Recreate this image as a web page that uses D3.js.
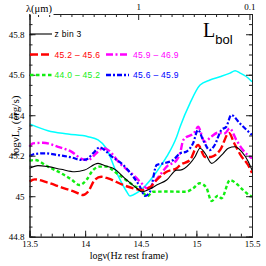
<!DOCTYPE html>
<html>
<head>
<meta charset="utf-8">
<script src="https://cdn.jsdelivr.net/npm/d3@7"></script>
<style>
  body { margin: 0; background: #fff; }
  svg { display: block; }
  .axis path, .axis line { stroke: #222; stroke-width: 1; }
  .axis text { font-family: "Liberation Serif", serif; font-size: 9px; fill: #000; }
</style>
</head>
<body>
<div id="chart"></div>
<script>
// --- Data: [log nu, log nuL_nu] ---
const cyanSeries = [
  [13.5, 45.357], [13.666, 45.323], [13.846, 45.307], [14.026, 45.294], [14.116, 45.278],
  [14.188, 45.238], [14.284, 45.115], [14.374, 45.022], [14.403, 45.001], [14.43, 45.006],
  [14.52, 45.04], [14.643, 45.121], [14.733, 45.195], [14.823, 45.294], [14.853, 45.342],
  [14.943, 45.46], [15.033, 45.549], [15.122, 45.574], [15.212, 45.59], [15.302, 45.608],
  [15.348, 45.62], [15.393, 45.608], [15.465, 45.584], [15.5, 45.565]
];
const blackSeries = [
  [13.5, 45.138], [13.576, 45.151], [13.666, 45.146], [13.783, 45.133], [13.906, 45.121],
  [13.996, 45.129], [14.116, 45.162], [14.188, 45.149], [14.251, 45.138], [14.374, 45.08],
  [14.464, 45.039], [14.509, 45.022], [14.583, 45.036], [14.643, 45.055], [14.733, 45.08],
  [14.823, 45.129], [14.853, 45.129], [14.943, 45.162], [14.988, 45.195], [15.033, 45.237],
  [15.078, 45.212], [15.138, 45.162], [15.183, 45.179], [15.242, 45.212], [15.287, 45.237],
  [15.347, 45.244], [15.407, 45.22], [15.467, 45.17], [15.5, 45.129]
];
const redSeries = [
  [13.5, 45.072], [13.547, 45.083], [13.666, 45.067], [13.786, 45.044], [13.906, 45.022],
  [13.981, 45.006], [14.026, 45.022], [14.086, 45.08], [14.145, 45.096], [14.206, 45.088],
  [14.343, 45.055], [14.433, 45.039], [14.509, 45.031], [14.583, 45.044], [14.643, 45.08],
  [14.733, 45.121], [14.823, 45.138], [14.853, 45.154], [14.943, 45.179], [15.015, 45.253],
  [15.078, 45.194], [15.132, 45.194], [15.213, 45.228], [15.294, 45.312], [15.339, 45.263],
  [15.402, 45.199], [15.465, 45.154], [15.5, 45.115]
];
const greenSeries = [
  [13.5, 45.175], [13.547, 45.179], [13.666, 45.146], [13.786, 45.113], [13.876, 45.083],
  [13.951, 45.055], [14.011, 45.08], [14.071, 45.129], [14.131, 45.146], [14.188, 45.146],
  [14.284, 45.113], [14.43, 45.055], [14.52, 45.022], [14.553, 44.998], [14.61, 45.022],
  [14.733, 45.023], [14.907, 45.022], [14.97, 45.039], [15.03, 45.064], [15.089, 45.043],
  [15.136, 44.976], [15.194, 45.003], [15.226, 44.99], [15.302, 45.08], [15.356, 45.064],
  [15.419, 45.031], [15.482, 45.003], [15.5, 44.998]
];
const magentaSeries = [
  [13.5, 45.244], [13.531, 45.261], [13.621, 45.264], [13.756, 45.244], [13.876, 45.22],
  [13.981, 45.182], [14.026, 45.179], [14.1, 45.212], [14.161, 45.237], [14.206, 45.228],
  [14.313, 45.162], [14.433, 45.105], [14.523, 45.055], [14.553, 45.039], [14.613, 45.064],
  [14.673, 45.105], [14.733, 45.146], [14.823, 45.179], [14.853, 45.212], [14.883, 45.278],
  [14.988, 45.319], [15.015, 45.343], [15.075, 45.269], [15.134, 45.294], [15.194, 45.314],
  [15.255, 45.311], [15.3, 45.335], [15.359, 45.278], [15.419, 45.228], [15.5, 45.187]
];
const blueSeries = [
  [13.5, 45.199], [13.547, 45.208], [13.637, 45.212], [13.756, 45.203], [13.876, 45.192],
  [13.966, 45.179], [14.011, 45.182], [14.071, 45.212], [14.131, 45.241], [14.191, 45.22],
  [14.224, 45.203], [14.343, 45.154], [14.433, 45.096], [14.493, 45.047], [14.538, 45.001],
  [14.583, 45.022], [14.643, 45.154], [14.702, 45.162], [14.792, 45.179], [14.853, 45.212],
  [14.909, 45.22], [14.97, 45.261], [15.015, 45.327], [15.06, 45.278], [15.12, 45.228],
  [15.165, 45.253], [15.224, 45.327], [15.269, 45.343], [15.314, 45.401], [15.39, 45.36],
  [15.5, 45.302]
];

const xTicks = [13.5, 14, 14.5, 15, 15.5];
const xTickLabels = ["13.5", "14", "14.5", "15", "15.5"];
const yTicks = [44.8, 45, 45.2, 45.4, 45.6, 45.8];
const yTickLabels = ["44.8", "45", "45.2", "45.4", "45.6", "45.8"];
const lamTicks = [1, 0.1];
const lamTickLabels = ["1", "0.1"];
// minor wavelength ticks every 0.1 dex
const lamMinorExp = [0.9, 0.8, 0.7, 0.6, 0.5, 0.4, 0.3, 0.2, 0.1,
  -0.1, -0.2, -0.3, -0.4, -0.5, -0.6, -0.7, -0.8, -0.9];

const legendRows = [
  { label: "z bin 3", color: "#000", dash: null, width: 1.1, col: 0, row: 0 },
  { label: "45.2 \u2013 45.6", color: "#ff0000", dash: "8,3", width: 2.4, col: 0, row: 1 },
  { label: "45.9 \u2013 46.9", color: "#ff00ff", dash: "7,2.5,2,2.5", width: 2.4, col: 1, row: 1 },
  { label: "44.0 \u2013 45.2", color: "#11ee11", dash: "3.5,2.5", width: 2.4, col: 0, row: 2 },
  { label: "45.6 \u2013 45.9", color: "#0000ff", dash: "5,2,2,2", width: 2.4, col: 1, row: 2 }
];

const series = [
  { data: cyanSeries, color: "#00ffff", dash: null, width: 1.5 },
  { data: greenSeries, color: "#11ee11", dash: "3.5,2.5", width: 2.4 },
  { data: magentaSeries, color: "#ff00ff", dash: "7,2.5,2,2.5", width: 2.4 },
  { data: blueSeries, color: "#0000ff", dash: "5,2,2,2", width: 2.2 },
  { data: redSeries, color: "#ff0000", dash: "8,3", width: 2.4 },
  { data: blackSeries, color: "#000", dash: null, width: 1.1 }
];

// --- Layout ---
const W = 266, H = 266;
const mLeft = 29.5, mRight = 252, mTop = 14, mBottom = 236.7;

const svg = d3.select("#chart").append("svg").attr("width", W).attr("height", H);

const x = d3.scaleLinear().domain([13.5, 15.5]).range([mLeft, mRight]);
const y = d3.scaleLinear().domain([44.8, 45.9]).range([mBottom, mTop]);

// wavelength (micron) on the top axis: log nu = log(c/lambda)
const logC = Math.log10(2.998e14);
const lam = d3.scaleLog()
  .domain([Math.pow(10, logC - 13.5), Math.pow(10, logC - 15.5)])
  .range([mLeft, mRight]);

// --- Curves ---
const line = d3.line().x(d => x(d[0])).y(d => y(d[1])).curve(d3.curveMonotoneX);

svg.append("g").selectAll("path")
  .data(series)
  .join("path")
  .attr("d", d => line(d.data))
  .attr("fill", "none")
  .attr("stroke", d => d.color)
  .attr("stroke-width", d => d.width)
  .attr("stroke-dasharray", d => d.dash)
  .attr("stroke-linejoin", "round");

// --- Axes (ticks point inward) ---
const fmtX = d => xTickLabels[xTicks.indexOf(d)];
const fmtY = d => yTickLabels[yTicks.indexOf(d)];
const xMinor = d3.range(13.5, 15.51, 0.1).map(v => +v.toFixed(2));
const yMinor = d3.range(44.8, 45.901, 0.05).map(v => +v.toFixed(2));
const lamMinor = lamMinorExp.map(e => Math.pow(10, e));

svg.append("g").attr("class", "axis").attr("transform", `translate(0,${mBottom})`)
  .call(d3.axisBottom(x).tickValues(xMinor).tickSize(-3).tickFormat(""));
svg.append("g").attr("class", "axis").attr("transform", `translate(0,${mBottom})`)
  .call(d3.axisBottom(x).tickValues(xTicks).tickSize(-6).tickPadding(4).tickFormat(fmtX));

svg.append("g").attr("class", "axis").attr("transform", `translate(${mLeft},0)`)
  .call(d3.axisLeft(y).tickValues(yMinor).tickSize(-3).tickFormat(""));
svg.append("g").attr("class", "axis").attr("transform", `translate(${mLeft},0)`)
  .call(d3.axisLeft(y).tickValues(yTicks).tickSize(-6).tickPadding(5).tickFormat(fmtY));

svg.append("g").attr("class", "axis").attr("transform", `translate(${mRight},0)`)
  .call(d3.axisRight(y).tickValues(yMinor).tickSize(-3).tickFormat(""));
svg.append("g").attr("class", "axis").attr("transform", `translate(${mRight},0)`)
  .call(d3.axisRight(y).tickValues(yTicks).tickSize(-6).tickFormat(""));

svg.append("g").attr("class", "axis").attr("transform", `translate(0,${mTop})`)
  .call(d3.axisTop(lam).tickValues(lamMinor).tickSize(-3).tickFormat(""));
svg.append("g").attr("class", "axis").attr("transform", `translate(0,${mTop})`)
  .call(d3.axisTop(lam).tickValues(lamTicks).tickSize(-6).tickPadding(4)
    .tickFormat(d => lamTickLabels[lamTicks.indexOf(d)]));

svg.selectAll(".axis path.domain").attr("stroke-width", 1.2);

// --- Axis titles ---
// the wavelength label sits over the start of the top axis line
svg.append("rect").attr("x", mLeft + 1).attr("y", 9).attr("width", 23).attr("height", 6).attr("fill", "#fff");
svg.append("text")
  .attr("x", 26).attr("y", 12)
  .style("font-family", "Liberation Serif, serif").style("font-size", "10.5px")
  .text("\u03bb(\u03bcm)");

svg.append("text")
  .attr("x", 129).attr("y", 259)
  .attr("text-anchor", "middle")
  .style("font-family", "Liberation Serif, serif").style("font-size", "10px")
  .text("log\u03bd(Hz rest frame)");

const yTitle = svg.append("text")
  .attr("transform", "translate(19,126) rotate(-90)")
  .attr("text-anchor", "middle")
  .style("font-family", "Liberation Serif, serif").style("font-size", "11px");
yTitle.append("tspan").text("log\u03bdL");
yTitle.append("tspan").attr("dy", 3).style("font-size", "8px").text("\u03bd");
yTitle.append("tspan").attr("dy", -3).text(" (erg/s)");

// --- L_bol label ---
const lb = svg.append("text").attr("x", 203).attr("y", 37);
lb.append("tspan").style("font-family", "Liberation Serif, serif").style("font-size", "20px").text("L");
lb.append("tspan").attr("dy", 7).style("font-family", "Liberation Sans, sans-serif").style("font-size", "13px").text("bol");

// --- Legend ---
const colX = [30, 106];
const rowY = [34, 54.5, 75];
const leg = svg.append("g").selectAll("g").data(legendRows).join("g")
  .attr("transform", d => `translate(${colX[d.col]},${rowY[d.row]})`);
leg.append("line")
  .attr("x1", 0).attr("x2", d => d.col === 0 ? 22 : 23)
  .attr("stroke", d => d.color)
  .attr("stroke-width", d => d.width)
  .attr("stroke-dasharray", d => d.dash);
leg.append("text")
  .attr("x", d => d.col === 0 ? 24.5 : 27).attr("y", 3)
  .style("font-family", "Liberation Sans, sans-serif").style("font-size", "8.5px")
  .style("letter-spacing", "0.3px")
  .attr("fill", d => d.color)
  .text(d => d.label);
</script>
</body>
</html>
